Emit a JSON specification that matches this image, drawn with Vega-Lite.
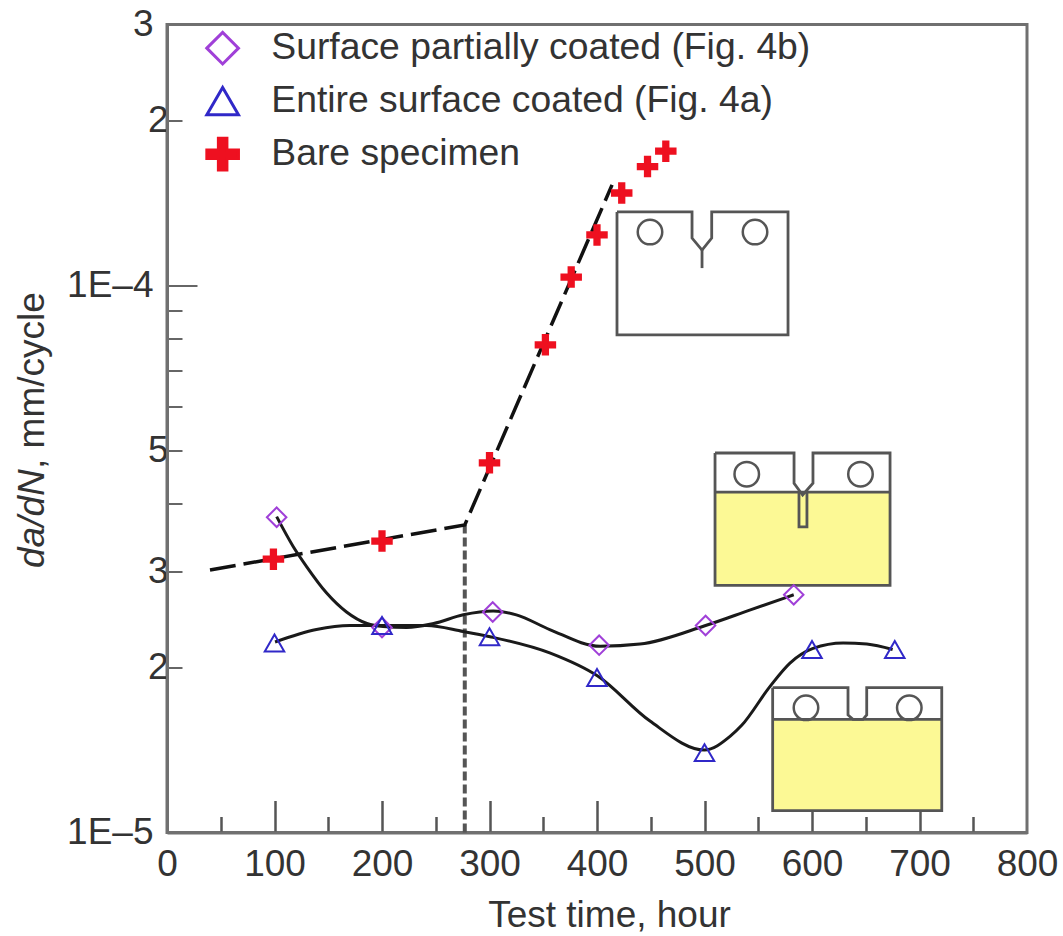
{"$schema":"https://vega.github.io/schema/vega-lite/v6.json","width":860,"height":808,"autosize":{"type":"none"},"padding":{"left":167,"top":24.5,"right":36,"bottom":104},"background":"white","view":{"stroke":"#707070","strokeWidth":3,"fill":"white"},"config":{"font":"Liberation Sans","text":{"font":"Liberation Sans"}},"datasets":{"points":[{"series":"Surface partially coated (Fig. 4b)","t":102,"v":3.77e-5},{"series":"Surface partially coated (Fig. 4b)","t":200,"v":2.37e-5},{"series":"Surface partially coated (Fig. 4b)","t":303,"v":2.53e-5},{"series":"Surface partially coated (Fig. 4b)","t":402,"v":2.2e-5},{"series":"Surface partially coated (Fig. 4b)","t":501,"v":2.39e-5},{"series":"Surface partially coated (Fig. 4b)","t":583,"v":2.72e-5},{"series":"Entire surface coated (Fig. 4a)","t":100,"v":2.22e-5},{"series":"Entire surface coated (Fig. 4a)","t":200,"v":2.39e-5},{"series":"Entire surface coated (Fig. 4a)","t":300,"v":2.28e-5},{"series":"Entire surface coated (Fig. 4a)","t":400,"v":1.92e-5},{"series":"Entire surface coated (Fig. 4a)","t":500,"v":1.4e-5},{"series":"Entire surface coated (Fig. 4a)","t":600,"v":2.16e-5},{"series":"Entire surface coated (Fig. 4a)","t":677,"v":2.16e-5},{"series":"Bare specimen","t":99,"v":3.16e-5},{"series":"Bare specimen","t":200,"v":3.41e-5},{"series":"Bare specimen","t":300,"v":4.74e-5},{"series":"Bare specimen","t":352,"v":7.79e-5},{"series":"Bare specimen","t":376,"v":1.036e-4},{"series":"Bare specimen","t":400,"v":1.237e-4},{"series":"Bare specimen","t":423,"v":1.476e-4},{"series":"Bare specimen","t":447,"v":1.65e-4},{"series":"Bare specimen","t":464,"v":1.76e-4}],"curves":[{"c":"A","t":102,"v":3.78e-5},{"c":"A","t":117.5,"v":3.33e-5},{"c":"A","t":130,"v":3.06e-5},{"c":"A","t":148.5,"v":2.74e-5},{"c":"A","t":167,"v":2.53e-5},{"c":"A","t":186,"v":2.41e-5},{"c":"A","t":201,"v":2.38e-5},{"c":"A","t":223,"v":2.37e-5},{"c":"A","t":248,"v":2.41e-5},{"c":"A","t":275.6,"v":2.5e-5},{"c":"A","t":303.5,"v":2.54e-5},{"c":"A","t":325,"v":2.5e-5},{"c":"A","t":356,"v":2.35e-5},{"c":"A","t":403,"v":2.19e-5},{"c":"A","t":440,"v":2.21e-5},{"c":"A","t":501,"v":2.39e-5},{"c":"A","t":542,"v":2.55e-5},{"c":"A","t":583,"v":2.72e-5},{"c":"B","t":100.5,"v":2.23e-5},{"c":"B","t":139,"v":2.35e-5},{"c":"B","t":170,"v":2.39e-5},{"c":"B","t":201,"v":2.39e-5},{"c":"B","t":241.6,"v":2.39e-5},{"c":"B","t":275.6,"v":2.33e-5},{"c":"B","t":300.5,"v":2.28e-5},{"c":"B","t":356,"v":2.13e-5},{"c":"B","t":401,"v":1.93e-5},{"c":"B","t":449,"v":1.6e-5},{"c":"B","t":500,"v":1.415e-5},{"c":"B","t":524,"v":1.5e-5},{"c":"B","t":534.6,"v":1.57e-5},{"c":"B","t":561,"v":1.85e-5},{"c":"B","t":579.5,"v":2.04e-5},{"c":"B","t":601,"v":2.17e-5},{"c":"B","t":629,"v":2.22e-5},{"c":"B","t":651,"v":2.21e-5},{"c":"B","t":675,"v":2.16e-5}],"trend":[{"t":40,"v":3.02e-5},{"t":277,"v":3.65e-5},{"t":414,"v":1.527e-4}],"cutoff":[{"t":277,"v":1e-5},{"t":277,"v":3.65e-5}],"fills":[{"t":509.8,"t2":672.6,"v":4.19e-5,"v2":2.83e-5},{"t":563.4,"t2":720.7,"v":1.61e-5,"v2":1.096e-5}],"outline":[{"p":"a","i":1,"t":418.6,"v":13.63e-5},{"p":"a","i":2,"t":488.4,"v":13.63e-5},{"p":"a","i":3,"t":488.4,"v":12.21e-5},{"p":"a","i":4,"t":497.7,"v":11.61e-5},{"p":"a","i":5,"t":506.7,"v":12.21e-5},{"p":"a","i":6,"t":506.7,"v":13.63e-5},{"p":"a","i":7,"t":577.7,"v":13.63e-5},{"p":"a","i":8,"t":577.7,"v":8.12e-5},{"p":"a","i":9,"t":418.6,"v":8.12e-5},{"p":"a","i":10,"t":418.6,"v":13.63e-5},{"p":"a2","i":1,"t":497.7,"v":11.61e-5},{"p":"a2","i":2,"t":497.7,"v":10.76e-5},{"p":"b","i":1,"t":509.8,"v":4.94e-5},{"p":"b","i":2,"t":583.3,"v":4.94e-5},{"p":"b","i":3,"t":583.3,"v":4.35e-5},{"p":"b","i":4,"t":591.3,"v":4.14e-5},{"p":"b","i":5,"t":600.9,"v":4.35e-5},{"p":"b","i":6,"t":600.9,"v":4.94e-5},{"p":"b","i":7,"t":672.6,"v":4.94e-5},{"p":"b","i":8,"t":672.6,"v":2.83e-5},{"p":"b","i":9,"t":509.8,"v":2.83e-5},{"p":"b","i":10,"t":509.8,"v":4.94e-5},{"p":"b2","i":1,"t":509.8,"v":4.19e-5},{"p":"b2","i":2,"t":672.6,"v":4.19e-5},{"p":"b3","i":1,"t":587.9,"v":4.19e-5},{"p":"b3","i":2,"t":587.9,"v":3.62e-5},{"p":"b3","i":3,"t":595.3,"v":3.62e-5},{"p":"b3","i":4,"t":595.3,"v":4.19e-5},{"p":"c","i":1,"t":563.4,"v":1.84e-5},{"p":"c","i":2,"t":633.5,"v":1.84e-5},{"p":"c","i":3,"t":633.5,"v":1.64e-5},{"p":"c","i":4,"t":638.1,"v":1.61e-5},{"p":"c","i":5,"t":647.4,"v":1.61e-5},{"p":"c","i":6,"t":650.9,"v":1.64e-5},{"p":"c","i":7,"t":650.9,"v":1.84e-5},{"p":"c","i":8,"t":720.7,"v":1.84e-5},{"p":"c","i":9,"t":720.7,"v":1.096e-5},{"p":"c","i":10,"t":563.4,"v":1.096e-5},{"p":"c","i":11,"t":563.4,"v":1.84e-5},{"p":"c2","i":1,"t":563.4,"v":1.61e-5},{"p":"c2","i":2,"t":720.7,"v":1.61e-5}],"holes":[{"t":449.3,"v":12.52e-5},{"t":547,"v":12.52e-5},{"t":539.3,"v":4.52e-5},{"t":645.1,"v":4.52e-5},{"t":594.4,"v":1.69e-5},{"t":690.5,"v":1.69e-5}]},"encoding":{"x":{"field":"t","type":"quantitative","scale":{"domain":[0,800],"nice":false},"axis":{"values":[0,50,100,150,200,250,300,350,400,450,500,550,600,650,700,750,800],"labelExpr":"datum.value%100==0?datum.label:''","labelFontSize":37,"labelColor":"#333333","labelPadding":{"condition":{"test":"datum.value%100==0 && datum.value>0 && datum.value<800","value":46},"value":14},"labelFlush":false,"labelOverlap":false,"labelBound":false,"format":"d","grid":false,"domainColor":"#707070","domainWidth":3,"tickColor":"#555555","tickWidth":2.5,"tickSize":{"condition":[{"test":"datum.value==0 || datum.value==800","value":0},{"test":"datum.value%100==0","value":-32}],"value":-16},"title":"Test time, hour","titleFontSize":37,"titleFontWeight":"normal","titleColor":"#333333","titleX":442,"titleY":83,"titleBaseline":"middle","titleAnchor":"middle"}},"y":{"field":"v","type":"quantitative","scale":{"type":"log","domain":[1e-5,3e-4],"nice":false},"axis":null}},"layer":[{"data":{"name":"fills"},"mark":{"type":"rect","fill":"#FCF995"},"encoding":{"x2":{"field":"t2"},"y2":{"field":"v2"}}},{"data":{"name":"outline"},"mark":{"type":"line","stroke":"#555555","strokeWidth":2.8,"strokeJoin":"miter"},"encoding":{"detail":{"field":"p"},"order":{"field":"i"}}},{"data":{"name":"holes"},"mark":{"type":"point","shape":"circle","filled":false,"stroke":"#555555","strokeWidth":2.5,"size":600,"opacity":1}},{"data":{"name":"cutoff"},"mark":{"type":"line","stroke":"#555555","strokeWidth":4,"strokeDash":[9,4]}},{"data":{"name":"trend"},"mark":{"type":"line","stroke":"#111111","strokeWidth":3.5,"strokeDash":[26,8]}},{"data":{"name":"curves"},"mark":{"type":"line","stroke":"#1a1a1a","strokeWidth":3,"interpolate":"monotone"},"encoding":{"detail":{"field":"c"}}},{"data":{"name":"points"},"mark":{"type":"point","filled":false,"strokeWidth":2,"opacity":1,"size":380},"encoding":{"y":{"field":"v","type":"quantitative","scale":{"type":"log","domain":[1e-5,3e-4],"nice":false},"axis":{"orient":"left","values":[1e-5,2e-5,3e-5,4e-5,5e-5,6e-5,7e-5,8e-5,9e-5,1e-4,2e-4,3e-4],"labelExpr":"round(datum.value*1e6)==10?'1E–5':round(datum.value*1e6)==100?'1E–4':indexof([20,200],round(datum.value*1e6))>=0?'2':indexof([30,300],round(datum.value*1e6))>=0?'3':round(datum.value*1e6)==50?'5':''","labelFontSize":37,"labelColor":"#333333","labelPadding":{"condition":{"test":"round(datum.value*1e6)==100","value":44},"value":14},"labelOverlap":false,"labelBound":false,"labelFlush":false,"grid":false,"domainColor":"#707070","domainWidth":3,"tickColor":"#666666","tickWidth":2,"tickSize":{"condition":[{"test":"round(datum.value*1e6)==100","value":-30},{"test":"round(datum.value*1e6)==10 || round(datum.value*1e6)==300","value":0}],"value":-15},"title":", mm/cycle","titleFontSize":37,"titleFontWeight":"normal","titleColor":"#333333","titleAngle":-90,"titleAlign":"left","titleBaseline":"middle","titleX":-135,"titleY":444}},"shape":{"field":"series","type":"nominal","title":null,"sort":null,"scale":{"domain":["Surface partially coated (Fig. 4b)","Entire surface coated (Fig. 4a)","Bare specimen"],"range":["diamond","triangle-up","M-0.27,-1H0.27V-0.27H1V0.27H0.27V1H-0.27V0.27H-1V-0.27H-0.27Z"]},"legend":{"orient":"none","legendX":37,"legendY":5,"symbolSize":1000,"symbolStrokeWidth":3,"labelFontSize":37.3,"labelColor":"#333333","labelLimit":700,"labelOffset":30,"rowPadding":10,"symbolOpacity":1,"fillColor":"transparent"}},"stroke":{"field":"series","type":"nominal","title":null,"sort":null,"scale":{"domain":["Surface partially coated (Fig. 4b)","Entire surface coated (Fig. 4a)","Bare specimen"],"range":["#A040D8","#3028C8","#EE1020"]}},"fill":{"field":"series","type":"nominal","title":null,"sort":null,"scale":{"domain":["Surface partially coated (Fig. 4b)","Entire surface coated (Fig. 4a)","Bare specimen"],"range":["transparent","transparent","#EE1020"]}}}},{"mark":{"type":"point","opacity":0},"data":{"values":[{"t":0,"v":1e-5}]},"encoding":{"y":{"field":"v","type":"quantitative","scale":{"type":"log","domain":[1e-5,3e-4],"nice":false},"axis":{"orient":"left","values":[],"labels":false,"ticks":false,"domain":false,"grid":false,"title":"da/dN","titleFontSize":37,"titleFontStyle":"italic","titleFontWeight":"normal","titleColor":"#333333","titleAngle":-90,"titleAlign":"left","titleBaseline":"middle","titleX":-135,"titleY":543}}}}],"resolve":{"axis":{"y":"independent"}}}
